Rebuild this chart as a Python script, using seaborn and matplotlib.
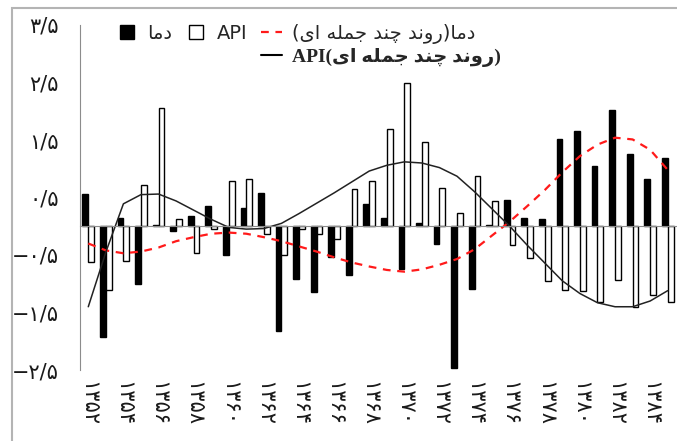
import numpy as np
import pandas as pd
import seaborn as sns
import matplotlib.pyplot as plt
from matplotlib.lines import Line2D
from matplotlib.patches import Rectangle

# ---------------- data ----------------
years = [1352, 1353, 1354, 1355, 1356, 1357, 1358, 1359, 1360, 1361,
         1362, 1363, 1364, 1365, 1366, 1367, 1368, 1369, 1370, 1371,
         1372, 1373, 1374, 1375, 1376, 1377, 1378, 1379, 1380, 1381,
         1382, 1383, 1384, 1385]
temp = [0.56, -1.93, 0.14, -1.00, 0.02, -0.09, 0.17, 0.35, -0.50, 0.32,
        0.58, -1.82, -0.91, -1.14, -0.53, -0.84, 0.38, 0.14, -0.74, 0.05,
        -0.30, -2.46, -1.09, 0.03, 0.46, 0.14, 0.12, 1.52, 1.65, 1.04,
        2.03, 1.26, 0.82, 1.18]
api = [-0.63, -1.10, -0.60, 0.72, 2.05, 0.13, -0.47, -0.05, 0.79, 0.82,
       -0.14, -0.50, -0.05, -0.14, -0.23, 0.65, 0.79, 1.70, 2.49, 1.46,
       0.67, 0.23, 0.88, 0.44, -0.32, -0.56, -0.96, -1.10, -1.12, -1.32,
       -0.93, -1.40, -1.19, -1.32]
temp_trend = [-0.30, -0.42, -0.47, -0.44, -0.37, -0.26, -0.19, -0.13, -0.11, -0.13,
              -0.19, -0.26, -0.35, -0.44, -0.54, -0.63, -0.70, -0.76, -0.79, -0.75,
              -0.67, -0.57, -0.40, -0.16, 0.08, 0.35, 0.63, 0.94, 1.22, 1.42,
              1.54, 1.51, 1.33, 0.98]
api_trend = [-1.40, -0.45, 0.39, 0.55, 0.56, 0.44, 0.28, 0.12, -0.02, -0.05,
             -0.04, 0.05, 0.22, 0.40, 0.58, 0.77, 0.96, 1.06, 1.12, 1.10,
             1.02, 0.87, 0.60, 0.30, 0.00, -0.33, -0.64, -0.95, -1.17, -1.33,
             -1.40, -1.40, -1.30, -1.12]
ytick_vals = [-2.5, -1.5, -0.5, 0.5, 1.5, 2.5, 3.5]
ytick_labels = ["−۲/۵", "−۱/۵", "−۰/۵", "۰/۵", "۱/۵", "۲/۵", "۳/۵"]
label_temp = "دما"
label_api = "API"
label_trend = "(روند چند جمله ای)"

# ------------- simple Persian shaping (presentation forms, visual order) -------------
DUAL = {"م": ("\uFEE1", "\uFEE2", "\uFEE3", "\uFEE4"),
        "ن": ("\uFEE5", "\uFEE6", "\uFEE7", "\uFEE8"),
        "چ": ("\uFB7A", "\uFB7B", "\uFB7C", "\uFB7D"),
        "ج": ("\uFE9D", "\uFE9E", "\uFE9F", "\uFEA0"),
        "ل": ("\uFEDD", "\uFEDE", "\uFEDF", "\uFEE0"),
        "ه": ("\uFEE9", "\uFEEA", "\uFEEB", "\uFEEC"),
        "ی": ("\uFBFC", "\uFBFD", "\uFBFE", "\uFBFF")}
RIGHT = {"ا": ("\uFE8D", "\uFE8E"), "د": ("\uFEA9", "\uFEAA"),
         "ر": ("\uFEAD", "\uFEAE"), "و": ("\uFEED", "\uFEEE")}


def shape(s):
    out = []
    for i, ch in enumerate(s):
        prev = s[i - 1] if i > 0 else ""
        nxt = s[i + 1] if i + 1 < len(s) else ""
        jp = prev in DUAL
        if ch in DUAL:
            jn = (nxt in DUAL) or (nxt in RIGHT)
            f = DUAL[ch]
            out.append(f[3] if (jp and jn) else f[1] if jp else f[2] if jn else f[0])
        elif ch in RIGHT:
            out.append(RIGHT[ch][1 if jp else 0])
        else:
            out.append(ch)
    vis = "".join(reversed(out))
    return vis.translate(str.maketrans("()", ")("))


fa_digits = str.maketrans("0123456789", "۰۱۲۳۴۵۶۷۸۹")

n = len(years)
df = pd.DataFrame({
    "year": years + years,
    "value": temp + api,
    "series": ["temp"] * n + ["api"] * n,
})

sns.set_style("white")
plt.rcParams["font.family"] = ["DejaVu Sans"]

fig = plt.figure(figsize=(6.77, 4.41), dpi=100)
ax = fig.add_axes([79.5 / 677, 1 - 370 / 441, (676.5 - 79.5) / 677, (370 - 25) / 441])

sns.barplot(data=df, x="year", y="value", hue="series",
            palette={"temp": "black", "api": "white"},
            edgecolor="black", linewidth=1.0, width=0.66, gap=0,
            errorbar=None, legend=False, ax=ax)

pos = np.arange(n)
sns.lineplot(x=pos, y=temp_trend, color="#ff1a1a", linestyle=(0, (3.5, 3)),
             linewidth=1.6, ax=ax)
sns.lineplot(x=pos, y=api_trend, color="#222222", linewidth=1.1, ax=ax)

ax.set_xlim(-0.5, n - 0.5)
ax.set_ylim(-2.5, 3.5)
ax.set_xlabel("")
ax.set_ylabel("")

gray = "#8c8c8c"
for s in ["top", "right"]:
    ax.spines[s].set_visible(False)
ax.spines["left"].set_color(gray)
ax.spines["bottom"].set_color(gray)
ax.spines["bottom"].set_position(("data", 0))

ax.set_xticks(np.arange(-0.5, n, 1.0))
ax.set_xticklabels([])
ax.tick_params(axis="x", direction="out", length=4, color=gray, width=1,
               labelbottom=False)
ax.set_yticks(ytick_vals, labels=ytick_labels)
ax.tick_params(axis="y", direction="out", length=6, color=gray, width=1,
               labelsize=15, pad=9, labelcolor="#1a1a1a")

sec = ax.secondary_xaxis(0)
sec.set_xticks(pos[::2], labels=[str(y).translate(fa_digits) for y in years[::2]])
sec.tick_params(length=0, pad=8, labelsize=15, labelcolor="#1a1a1a",
                labelrotation=-90)
sec.spines["bottom"].set_visible(False)

# legend
h_temp = Line2D([], [], linestyle="None", marker="s", markersize=10,
                markerfacecolor="black", markeredgecolor="black")
h_api = Line2D([], [], linestyle="None", marker="s", markersize=10,
               markerfacecolor="white", markeredgecolor="black", markeredgewidth=1)
h_ttrend = Line2D([], [], color="#ff1a1a", linestyle=(0, (3.5, 3)), linewidth=1.6)
h_atrend = Line2D([], [], color="black", linewidth=1.5)
blank = Line2D([], [], linestyle="None")

labels = [shape(label_temp), "", label_api, "",
          shape(label_temp + label_trend),
          label_api + "(" + shape(label_trend[1:-1]) + ")"]
leg = fig.legend([h_temp, blank, h_api, blank, h_ttrend, h_atrend], labels,
                 ncol=3, loc="upper left", bbox_to_anchor=(116 / 677, 1 - 24 / 441),
                 frameon=False, fontsize=14, handlelength=1.1, handletextpad=0.5,
                 columnspacing=0.7, labelspacing=0.2, borderpad=0, borderaxespad=0)
leg.get_texts()[5].set_fontfamily(["Liberation Serif", "DejaVu Sans"])
leg.get_texts()[5].set_fontweight("bold")

# outer chart frame
fig.add_artist(Rectangle((12 / 677, -0.1), 1.2, 1.1 - 8 / 441,
                         transform=fig.transFigure, fill=False,
                         edgecolor="#b4b4b4", linewidth=1.5))

fig.savefig("out.png", dpi=100)
